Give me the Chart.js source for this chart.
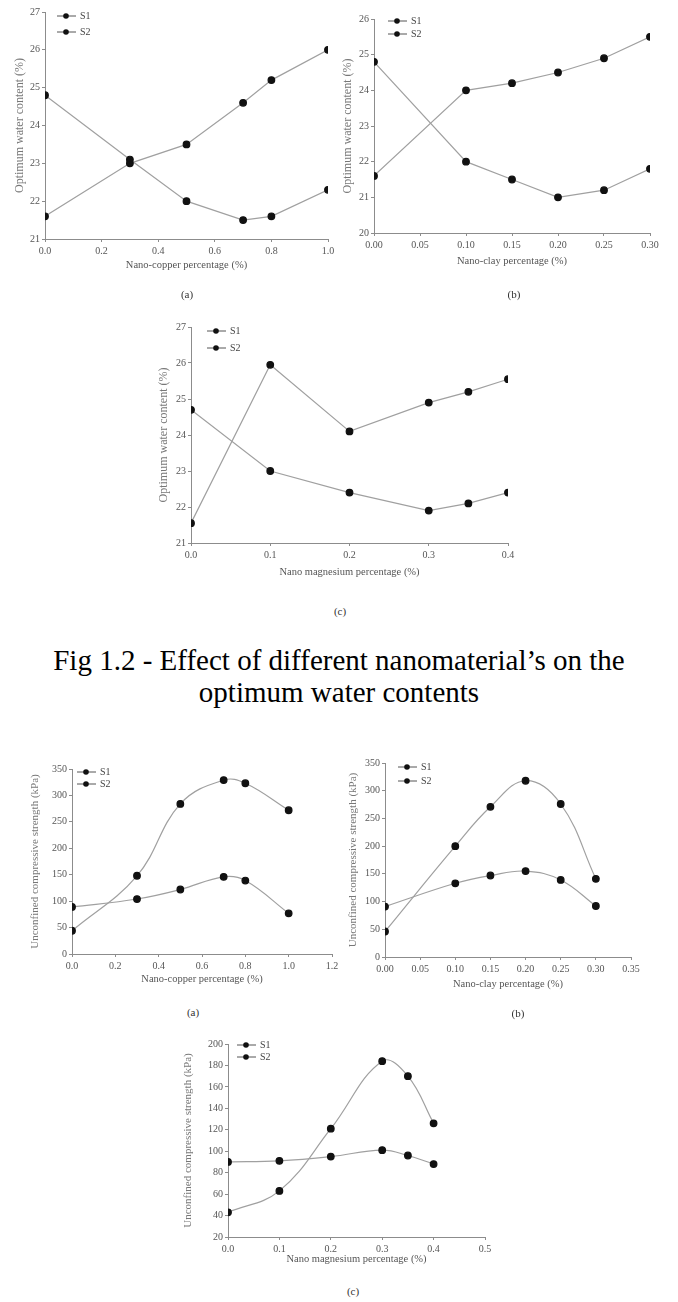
<!DOCTYPE html>
<html>
<head>
<meta charset="utf-8">
<script src="https://cdn.jsdelivr.net/npm/chart.js@4"></script>
<style>
  body { margin: 0; background: #fff; }
  #page { position: relative; width: 678px; height: 1302px; background: #fff; overflow: hidden; }
  .box { position: absolute; }
  .sub { position: absolute; font-family: "Liberation Serif", serif; font-size: 11px; color: #333; transform: translateX(-50%); }
  #caption { position: absolute; left: 0; width: 678px; top: 644px; text-align: center;
             font-family: "Liberation Serif", serif; font-size: 29px; line-height: 32px; color: #000; }
</style>
</head>
<body>
<div id="page">
  <div class="box" id="b1"><canvas id="c1"></canvas></div>
  <div class="box" id="b2"><canvas id="c2"></canvas></div>
  <div class="box" id="b3"><canvas id="c3"></canvas></div>
  <div class="box" id="b4"><canvas id="c4"></canvas></div>
  <div class="box" id="b5"><canvas id="c5"></canvas></div>
  <div class="box" id="b6"><canvas id="c6"></canvas></div>
  <div class="sub" style="left:187px;top:288px">(a)</div>
  <div class="sub" style="left:514px;top:288px">(b)</div>
  <div class="sub" style="left:340px;top:605px">(c)</div>
  <div id="caption">Fig 1.2 - Effect of different nanomaterial’s on the<br>optimum water contents</div>
  <div class="sub" style="left:193px;top:1006px">(a)</div>
  <div class="sub" style="left:518px;top:1007px">(b)</div>
  <div class="sub" style="left:353px;top:1285px">(c)</div>
</div>
<script>
// optimum water content (%)
const cuWaterX = [0, 0.3, 0.5, 0.7, 0.8, 1.0];
const cuWaterS1 = [21.6, 23.0, 23.5, 24.6, 25.2, 26.0];
const cuWaterS2 = [24.8, 23.1, 22.0, 21.5, 21.6, 22.3];

const clayWaterX = [0, 0.10, 0.15, 0.20, 0.25, 0.30];
const clayWaterS1 = [21.6, 24.0, 24.2, 24.5, 24.9, 25.5];
const clayWaterS2 = [24.8, 22.0, 21.5, 21.0, 21.2, 21.8];

const mgWaterX = [0, 0.1, 0.2, 0.3, 0.35, 0.4];
const mgWaterS1 = [21.55, 25.95, 24.1, 24.9, 25.2, 25.55];
const mgWaterS2 = [24.7, 23.0, 22.4, 21.9, 22.1, 22.4];

// unconfined compressive strength (kPa)
const cuUcsX = [0, 0.3, 0.5, 0.7, 0.8, 1.0];
const cuUcsS1 = [44, 148, 284, 329, 323, 272];
const cuUcsS2 = [89, 104, 122, 146, 139, 77];

const clayUcsX = [0, 0.10, 0.15, 0.20, 0.25, 0.30];
const clayUcsS1 = [46, 200, 271, 318, 276, 141];
const clayUcsS2 = [91, 133, 147, 155, 139, 92];

const mgUcsX = [0, 0.1, 0.2, 0.3, 0.35, 0.4];
const mgUcsS1 = [43, 63, 121, 184, 170, 126];
const mgUcsS2 = [90, 91, 95, 101, 96, 88];

const seriesNames = ['S1', 'S2'];

const FONT = '"Liberation Serif", serif';
const AXIS = '#8c8c8c';
const LINE = '#a0a0a0';

// legend drawn inside the plot, top-left
const innerLegend = {
  id: 'innerLegend',
  afterDatasetsDraw(chart, args, o) {
    const ctx = chart.ctx, a = chart.chartArea;
    chart.data.datasets.forEach((ds, i) => {
      const x = a.left + o.x, y = a.top + o.y + i * o.gap;
      ctx.save();
      ctx.strokeStyle = '#555';
      ctx.lineWidth = 1;
      ctx.beginPath(); ctx.moveTo(x, y); ctx.lineTo(x + 19, y); ctx.stroke();
      ctx.fillStyle = '#111';
      ctx.beginPath(); ctx.arc(x + 9, y, 2.8, 0, Math.PI * 2); ctx.fill();
      ctx.fillStyle = '#444';
      ctx.font = '10px ' + FONT;
      ctx.textBaseline = 'middle';
      ctx.fillText(ds.label, x + 23, y + 0.5);
      ctx.restore();
    });
  }
};

function makeChart(g) {
  const wrap = document.getElementById(g.box);
  wrap.style.left = g.x + 'px'; wrap.style.top = g.y + 'px';
  const cv = document.getElementById(g.id);
  cv.width = g.w; cv.height = g.h;
  const tLH = 12;
  const ds = [g.s1, g.s2].map((vals, i) => ({
    label: seriesNames[i],
    data: g.xs.map((x, k) => ({ x: x, y: vals[k] })),
    borderColor: LINE,
    borderWidth: 1.2,
    pointBackgroundColor: '#111',
    pointBorderColor: '#111',
    pointRadius: 3.3,
    tension: g.smooth ? 0.4 : 0,
    fill: false
  }));
  new Chart(cv, {
    type: 'line',
    data: { datasets: ds },
    plugins: [innerLegend],
    options: {
      responsive: false,
      animation: false,
      layout: { padding: { left: 0, top: g.area[1] - g.y, right: g.x + g.w - g.area[2], bottom: 0 } },
      plugins: {
        legend: { display: false },
        tooltip: { enabled: false },
        innerLegend: g.legend
      },
      scales: {
        x: {
          type: 'linear', min: g.xMin, max: g.xMax,
          border: { color: AXIS, width: 1 },
          grid: { display: true, drawOnChartArea: false, color: AXIS, tickLength: 3 },
          ticks: { stepSize: g.xStep, autoSkip: false, maxRotation: 0, color: '#555', padding: 3,
                   font: { family: FONT, size: 10 }, callback: v => Number(v).toFixed(g.xDec) },
          title: { display: true, text: g.xTitle, color: '#555', font: { family: FONT, size: 10.5, lineHeight: 1.2 },
                   padding: { top: 0, bottom: g.y + g.h - g.xTitleY - tLH / 2 } },
          afterFit: s => { s.height = g.y + g.h - g.area[3]; }
        },
        y: {
          type: 'linear', min: g.yMin, max: g.yMax,
          border: { color: AXIS, width: 1 },
          grid: { display: true, drawOnChartArea: false, color: AXIS, tickLength: 3 },
          ticks: { stepSize: g.yStep, autoSkip: false, color: '#555', padding: 2,
                   font: { family: FONT, size: 10 } },
          title: { display: true, text: g.yTitle, color: '#777', font: { family: FONT, size: g.yTitleSize, lineHeight: 1.2 },
                   padding: { top: g.yTitleX - g.x - (g.yTitleSize * 1.2) / 2, bottom: 0 } },
          afterFit: s => { s.width = g.area[0] - g.x; }
        }
      }
    }
  });
}

const waterTitle = 'Optimum water content (%)';
const ucsTitle = 'Unconfined compressive strength (kPa)';

makeChart({ box: 'b1', id: 'c1', x: 0, y: 0, w: 340, h: 276, area: [45, 12, 328, 239],
  xs: cuWaterX, s1: cuWaterS1, s2: cuWaterS2, smooth: false,
  xMin: 0, xMax: 1, xStep: 0.2, xDec: 1, yMin: 21, yMax: 27, yStep: 1,
  xTitle: 'Nano-copper percentage (%)', xTitleY: 266, yTitle: waterTitle, yTitleX: 20, yTitleSize: 12,
  legend: { x: 12, y: 4, gap: 16 } });

makeChart({ box: 'b2', id: 'c2', x: 338, y: 0, w: 340, h: 272, area: [374, 19, 650, 233],
  xs: clayWaterX, s1: clayWaterS1, s2: clayWaterS2, smooth: false,
  xMin: 0, xMax: 0.3, xStep: 0.05, xDec: 2, yMin: 20, yMax: 26, yStep: 1,
  xTitle: 'Nano-clay percentage (%)', xTitleY: 262, yTitle: waterTitle, yTitleX: 348, yTitleSize: 12,
  legend: { x: 14, y: 2, gap: 13 } });

makeChart({ box: 'b3', id: 'c3', x: 155, y: 300, w: 370, h: 282, area: [191, 327, 508, 543],
  xs: mgWaterX, s1: mgWaterS1, s2: mgWaterS2, smooth: false,
  xMin: 0, xMax: 0.4, xStep: 0.1, xDec: 1, yMin: 21, yMax: 27, yStep: 1,
  xTitle: 'Nano magnesium percentage (%)', xTitleY: 573, yTitle: waterTitle, yTitleX: 164, yTitleSize: 12,
  legend: { x: 16, y: 4, gap: 17 } });

makeChart({ box: 'b4', id: 'c4', x: 0, y: 750, w: 345, h: 240, area: [72, 769, 332, 954],
  xs: cuUcsX, s1: cuUcsS1, s2: cuUcsS2, smooth: true,
  xMin: 0, xMax: 1.2, xStep: 0.2, xDec: 1, yMin: 0, yMax: 350, yStep: 50,
  xTitle: 'Nano-copper percentage (%)', xTitleY: 980, yTitle: ucsTitle, yTitleX: 35, yTitleSize: 11,
  legend: { x: 5, y: 3, gap: 12 } });

makeChart({ box: 'b5', id: 'c5', x: 338, y: 745, w: 340, h: 250, area: [385, 763, 631, 957],
  xs: clayUcsX, s1: clayUcsS1, s2: clayUcsS2, smooth: true,
  xMin: 0, xMax: 0.35, xStep: 0.05, xDec: 2, yMin: 0, yMax: 350, yStep: 50,
  xTitle: 'Nano-clay percentage (%)', xTitleY: 985, yTitle: ucsTitle, yTitleX: 353, yTitleSize: 11,
  legend: { x: 13, y: 4, gap: 14 } });

makeChart({ box: 'b6', id: 'c6', x: 175, y: 1030, w: 330, h: 240, area: [228, 1044, 485, 1237],
  xs: mgUcsX, s1: mgUcsS1, s2: mgUcsS2, smooth: true,
  xMin: 0, xMax: 0.5, xStep: 0.1, xDec: 1, yMin: 20, yMax: 200, yStep: 20,
  xTitle: 'Nano magnesium percentage (%)', xTitleY: 1260, yTitle: ucsTitle, yTitleX: 188, yTitleSize: 11,
  legend: { x: 9, y: 1, gap: 12 } });
</script>
</body>
</html>
